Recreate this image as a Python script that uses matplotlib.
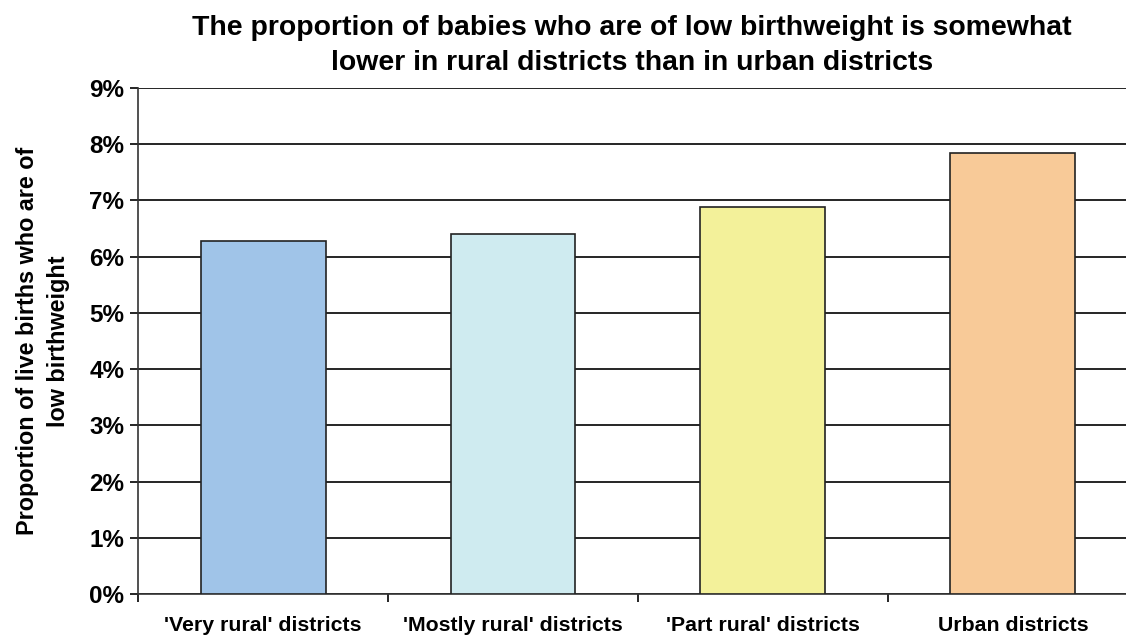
import matplotlib.pyplot as plt
import numpy as np

plt.rcParams['font.family'] = ['Liberation Sans', 'DejaVu Sans']
plt.rcParams['font.weight'] = 'bold'

# data
categories = ["'Very rural' districts", "'Mostly rural' districts",
              "'Part rural' districts", "Urban districts"]
low_bw_pct = [6.28, 6.40, 6.88, 7.85]
bar_colors = ['#A0C4E8', '#CFEBF0', '#F3F19A', '#F8CA98']
y_ticks = list(range(0, 10))

fig = plt.figure(figsize=(11.26, 6.37), dpi=100)
ax = fig.add_axes([0.1226, 0.0675, 0.888, 0.7944])

x = np.arange(len(categories))
ax.bar(x, low_bw_pct, width=0.5, color=bar_colors, edgecolor='#222222',
       linewidth=1.2, zorder=3)

ax.set_xlim(-0.5, len(categories) - 0.5)
ax.set_ylim(0, 9)
ax.set_yticks(y_ticks)
ax.set_yticklabels([f'{t}%' for t in y_ticks], fontsize=17.5, fontweight='bold')
ax.yaxis.grid(True, color='black', linewidth=1.2, zorder=0)

# category labels centred, tick marks at boundaries
ax.set_xticks(np.arange(-0.5, len(categories), 1.0))
ax.set_xticklabels([])
ax.set_xticks(x, minor=True)
ax.set_xticklabels(categories, minor=True, fontsize=15.3, fontweight='bold')
ax.tick_params(axis='x', which='minor', length=0, pad=15.5)
ax.tick_params(axis='x', which='major', length=6, width=1.2, direction='out')
ax.tick_params(axis='y', length=6, width=1.2, pad=4)

for s in ['top', 'right']:
    ax.spines[s].set_visible(False)
for s in ['left', 'bottom']:
    ax.spines[s].set_linewidth(1.2)
    ax.spines[s].set_color('#333333')

ax.set_ylabel('Proportion of live births who are of\nlow birthweight',
              fontsize=16.8, fontweight='bold', labelpad=14, linespacing=1.45)

fig.text(0.561, 0.977, 'The proportion of babies who are of low birthweight is somewhat\n'
         'lower in rural districts than in urban districts',
         ha='center', va='top', fontsize=20.4, fontweight='bold', linespacing=1.45)

fig.savefig('out.png', dpi=100)
